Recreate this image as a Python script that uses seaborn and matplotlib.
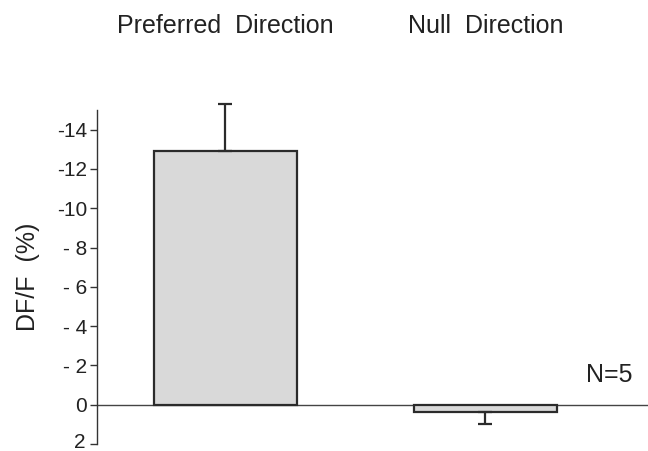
import matplotlib
matplotlib.use("Agg")
import matplotlib.pyplot as plt
import seaborn as sns
import pandas as pd
import numpy as np

# Data
conditions = ["Preferred  Direction", "Null  Direction"]
dff_values = [-12.9, 0.35]          # DF/F (%)
err_lower = [2.4, 0.0]              # toward more negative values
err_upper = [0.0, 0.65]             # toward more positive values
ytick_values = [-14, -12, -10, -8, -6, -4, -2, 0, 2]
ytick_labels = ["-14", "-12", "-10", "- 8", "- 6", "- 4", "- 2", "0", "2"]

sns.set_theme(style="white")
plt.rcParams['font.family'] = ['Liberation Sans', 'DejaVu Sans']

df = pd.DataFrame({"cond": conditions, "dff": dff_values})

fig = plt.figure(figsize=(6.48, 4.51), dpi=100)
ax = fig.add_axes([0.1497, 0.0155, 0.8503, 0.7406])

sns.barplot(data=df, x="cond", y="dff", order=conditions, color="#d9d9d9",
            edgecolor="#2b2b2b", linewidth=1.6, width=0.55, errorbar=None,
            saturation=1, ax=ax)
eb = ax.errorbar(range(len(conditions)), dff_values, yerr=[err_lower, err_upper],
                 fmt="none", ecolor="#2b2b2b", elinewidth=1.6, capsize=4.7,
                 capthick=1.6)
for art in eb.lines:
    if isinstance(art, tuple):
        for a in art:
            a.set_clip_on(False)
    elif art is not None:
        art.set_clip_on(False)

ax.axhline(0, color="#444444", linewidth=1.0, zorder=0.5)

ax.set_ylim(2, -15)
ax.set_xlim(-0.494, 1.625)
ax.set_yticks(ytick_values)
# last label ("2") is drawn separately, nudged up so it stays inside the figure
ax.set_yticklabels(ytick_labels[:-1] + [""], fontsize=15, color="#222222")
ax.annotate(ytick_labels[-1], xy=(0, ytick_values[-1]),
            xycoords=ax.get_yaxis_transform(), xytext=(-8.5, 2.5),
            textcoords="offset points", ha="right", va="center_baseline",
            fontsize=15, color="#222222", annotation_clip=False)
ax.tick_params(axis="y", direction="out", length=5, width=1, color="#333333",
               left=True, pad=2)
ax.set_xticks([])
ax.set_xlabel("")
ax.set_ylabel("DF/F  (%)", fontsize=18, color="#222222", labelpad=12)

for s in ["top", "right", "bottom"]:
    ax.spines[s].set_visible(False)
ax.spines["left"].set_color("#333333")
ax.spines["left"].set_linewidth(1.0)

for i, c in enumerate(conditions):
    fig.text(ax.transData.transform((i, 0))[0] / fig.dpi / 6.48, 1 - 33 / 451, c,
             ha="center", va="baseline", fontsize=18, color="#222222")

ax.text(1.477, -1.5, "N=5", fontsize=18, ha="center", va="center", color="#222222")

fig.savefig("out.png", dpi=100)
